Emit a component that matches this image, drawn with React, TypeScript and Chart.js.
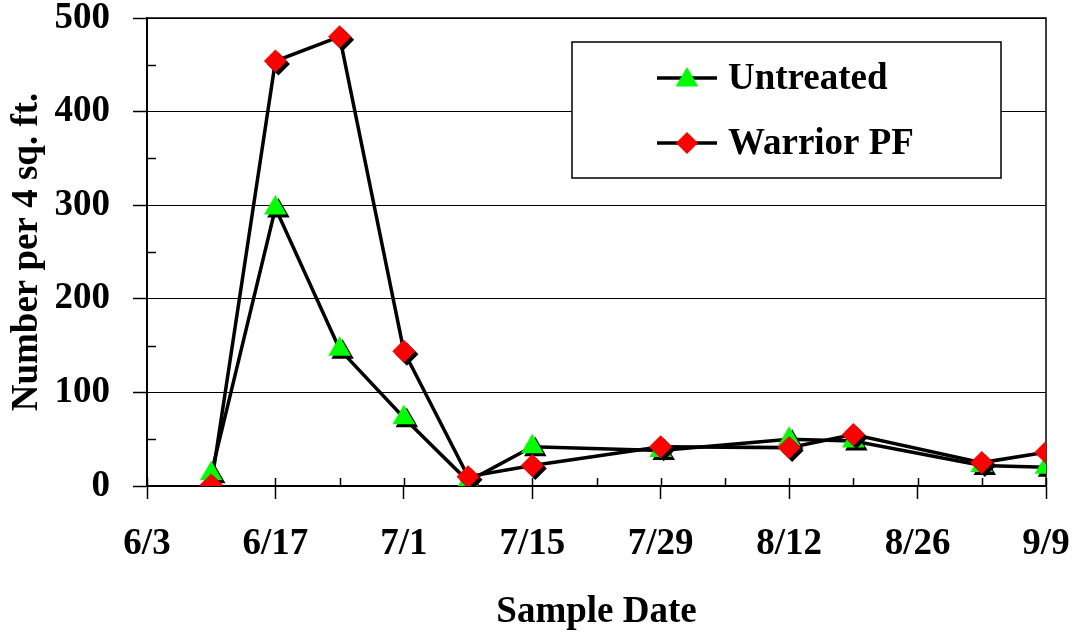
import React, { useEffect, useRef } from "react";
import { Chart, registerables } from "chart.js";

Chart.register(...registerables);

// ---- Data ----
const sampleDates = ["6/10", "6/17", "6/24", "7/1", "7/8", "7/15", "7/29", "8/12", "8/19", "9/2", "9/9"];
const untreated = [13, 297, 146, 73, 5, 42, 38, 50, 48, 22, 20];
const warriorPF = [1, 454, 480, 144, 10, 22, 42, 41, 55, 25, 36];
const xTickLabels = ["6/3", "6/17", "7/1", "7/15", "7/29", "8/12", "8/26", "9/9"];
const yMax = 500;
const yStep = 100;
const seriesNames = ["Untreated", "Warrior PF"];

const FONT = "'Liberation Serif', 'Times New Roman', Times, serif";

function dayOffset(s: string): number {
  const [m, d] = s.split("/").map(Number);
  const [m0, d0] = xTickLabels[0].split("/").map(Number);
  return Math.round((Date.UTC(2000, m - 1, d) - Date.UTC(2000, m0 - 1, d0)) / 86400000);
}

const xMin = dayOffset(xTickLabels[0]);
const xMax = dayOffset(xTickLabels[xTickLabels.length - 1]);
const xMajor = dayOffset(xTickLabels[1]) - xMin;
const xMinor = xMajor / 2;

const untreatedPts = sampleDates.map((d, i) => ({ x: dayOffset(d), y: untreated[i] }));
const warriorPts = sampleDates.map((d, i) => ({ x: dayOffset(d), y: warriorPF[i] }));

const shadowPlugin = {
  id: "markerShadow",
  beforeDatasetDraw(chart: any, args: any) {
    const ds = chart.data.datasets[args.index];
    if (ds.shadow) {
      const ctx = chart.ctx;
      ctx.save();
      ctx.shadowColor = "#000";
      ctx.shadowOffsetX = 3;
      ctx.shadowOffsetY = 3;
      ctx.shadowBlur = 0;
    }
  },
  afterDatasetDraw(chart: any, args: any) {
    const ds = chart.data.datasets[args.index];
    if (ds.shadow) chart.ctx.restore();
  },
};

const framePlugin = {
  id: "frameAndMinor",
  beforeDatasetsDraw(chart: any) {
    const { ctx, chartArea } = chart;
    const xs = chart.scales.x;
    const ys = chart.scales.y;
    ctx.save();
    ctx.strokeStyle = "#000";
    ctx.lineWidth = 1.5;
    ctx.beginPath();
    ctx.moveTo(chartArea.left, chartArea.top);
    ctx.lineTo(chartArea.right, chartArea.top);
    ctx.lineTo(chartArea.right, chartArea.bottom);
    ctx.stroke();
    for (let v = xMin; v <= xMax; v += xMinor) {
      const px = Math.round(xs.getPixelForValue(v)) + 0.5;
      ctx.beginPath();
      ctx.moveTo(px, chartArea.bottom);
      ctx.lineTo(px, chartArea.bottom - 8);
      ctx.stroke();
    }
    for (let v = yStep / 2; v < yMax; v += yStep) {
      const py = Math.round(ys.getPixelForValue(v)) + 0.5;
      ctx.beginPath();
      ctx.moveTo(chartArea.left, py);
      ctx.lineTo(chartArea.left + 9, py);
      ctx.stroke();
    }
    ctx.restore();
  },
};

function drawTri(ctx: CanvasRenderingContext2D, x: number, y: number, r: number) {
  ctx.beginPath();
  ctx.moveTo(x, y - r);
  ctx.lineTo(x + r * Math.sin(Math.PI * 2 / 3), y - r * Math.cos(Math.PI * 2 / 3));
  ctx.lineTo(x + r * Math.sin(Math.PI * 4 / 3), y - r * Math.cos(Math.PI * 4 / 3));
  ctx.closePath();
  ctx.fill();
}
function drawDiamond(ctx: CanvasRenderingContext2D, x: number, y: number, r: number) {
  ctx.beginPath();
  ctx.moveTo(x, y - r);
  ctx.lineTo(x + r, y);
  ctx.lineTo(x, y + r);
  ctx.lineTo(x - r, y);
  ctx.closePath();
  ctx.fill();
}

const legendPlugin = {
  id: "boxLegend",
  afterDraw(chart: any) {
    const { ctx, chartArea } = chart;
    const bx = chartArea.left + 425;
    const by = chartArea.top + 24;
    const bw = 429;
    const bh = 136;
    ctx.save();
    ctx.fillStyle = "#fff";
    ctx.fillRect(bx, by, bw, bh);
    ctx.strokeStyle = "#000";
    ctx.lineWidth = 1.5;
    ctx.strokeRect(bx, by, bw, bh);
    const rows = [
      { name: seriesNames[0], y: by + 36, color: "#00ff00", tri: true },
      { name: seriesNames[1], y: by + 101, color: "#ff0000", tri: false },
    ];
    for (const r of rows) {
      const lx = bx + 85;
      ctx.strokeStyle = "#000";
      ctx.lineWidth = 3.5;
      ctx.beginPath();
      ctx.moveTo(lx, r.y);
      ctx.lineTo(lx + 60, r.y);
      ctx.stroke();
      ctx.fillStyle = r.color;
      if (r.tri) drawTri(ctx, lx + 30, r.y + 2, 13);
      else drawDiamond(ctx, lx + 30, r.y, 11);
      ctx.fillStyle = "#000";
      ctx.font = `bold 37px ${FONT}`;
      ctx.textBaseline = "middle";
      ctx.textAlign = "left";
      ctx.fillText(r.name, lx + 71, r.y + 1);
    }
    ctx.restore();
  },
};

export default function App() {
  const ref = useRef<HTMLCanvasElement>(null);
  useEffect(() => {
    document.body.style.margin = "0";
    const canvas = ref.current!;
    const chart = new Chart(canvas, {
      type: "line",
      data: {
        datasets: [
          {
            label: seriesNames[1] + " markers",
            data: warriorPts,
            showLine: false,
            pointStyle: "rectRot",
            pointRadius: 11.5,
            pointBackgroundColor: "#ff0000",
            pointBorderWidth: 0,
            order: 0,
            shadow: true,
          } as any,
          {
            label: seriesNames[0] + " markers",
            data: untreatedPts,
            showLine: false,
            pointStyle: "triangle",
            pointRadius: 13,
            pointBackgroundColor: "#00ff00",
            pointBorderWidth: 0,
            order: 1,
            shadow: true,
          } as any,
          {
            label: seriesNames[1],
            data: warriorPts,
            borderColor: "#000",
            borderWidth: 3.5,
            pointRadius: 0,
            fill: false,
            tension: 0,
            order: 2,
          },
          {
            label: seriesNames[0],
            data: untreatedPts,
            borderColor: "#000",
            borderWidth: 3.5,
            pointRadius: 0,
            fill: false,
            tension: 0,
            order: 3,
          },
        ],
      },
      options: {
        responsive: false,
        animation: false,
        devicePixelRatio: 1,
        layout: { padding: { left: 0, right: 30, top: 18, bottom: 0 } },
        plugins: { legend: { display: false }, tooltip: { enabled: false } },
        scales: {
          x: {
            type: "linear",
            min: xMin,
            max: xMax,
            afterFit: (s: any) => { s.height = 152; s.paddingLeft = 0; s.paddingRight = 0; },
            grid: {
              drawOnChartArea: false,
              drawTicks: true,
              tickLength: 13,
              tickWidth: 1.5,
              tickColor: (c: any) => ((c.tick && (c.tick.value - xMin) % xMajor === 0) ? "#000" : "rgba(0,0,0,0)"),
            },
            border: { display: true, color: "#000", width: 2 },
            ticks: {
              stepSize: xMinor,
              autoSkip: false,
              maxRotation: 0,
              padding: 23,
              color: "#000",
              font: { family: FONT, size: 37, weight: "bold" },
              callback: (v: any) => {
                const idx = xTickLabels.findIndex((t) => dayOffset(t) === v);
                return idx >= 0 ? xTickLabels[idx] : "";
              },
            },
            title: {
              display: true,
              text: "Sample Date",
              color: "#000",
              font: { family: FONT, size: 37, weight: "bold" },
              padding: { top: 0, bottom: 3 },
            },
          },
          y: {
            min: 0,
            max: yMax,
            afterFit: (s: any) => { s.width = 147; s.paddingTop = 0; s.paddingBottom = 0; },
            grid: {
              color: "#000",
              lineWidth: 1,
              drawTicks: true,
              tickLength: 14,
              tickWidth: 1.5,
              tickColor: "#000",
            },
            border: { display: true, color: "#000", width: 2 },
            ticks: {
              stepSize: yStep,
              padding: 23,
              color: "#000",
              font: { family: FONT, size: 37, weight: "bold" },
            },
            title: {
              display: true,
              text: "Number per 4 sq. ft.",
              color: "#000",
              font: { family: FONT, size: 37, weight: "bold" },
              padding: { top: 5, bottom: 0 },
            },
          },
        },
      } as any,
      plugins: [framePlugin, shadowPlugin, legendPlugin],
    });
    return () => chart.destroy();
  }, []);
  return (
    <div style={{ position: "absolute", left: 0, top: 0, width: 1076, height: 638 }}>
      <canvas ref={ref} width={1076} height={638} />
    </div>
  );
}
